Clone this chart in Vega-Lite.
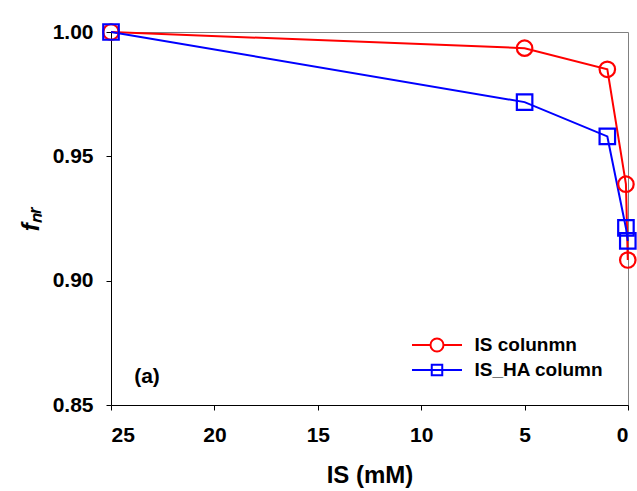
{
  "$schema": "https://vega.github.io/schema/vega-lite/v6.json",
  "width": 517,
  "height": 373,
  "autosize": {"type": "none"},
  "padding": {"left": 111, "top": 32, "right": 9, "bottom": 86},
  "background": "white",
  "config": {
    "view": {"stroke": "#808080", "strokeWidth": 1},
    "font": "Liberation Sans",
    "axis": {
      "grid": false,
      "domainColor": "black",
      "domainWidth": 1,
      "tickColor": "black",
      "tickSize": 5,
      "labelFont": "Liberation Sans",
      "labelFontWeight": "bold",
      "labelFontSize": 21,
      "labelColor": "black",
      "titleFont": "Liberation Sans",
      "titleFontWeight": "bold",
      "titleFontSize": 24,
      "titleColor": "black"
    }
  },
  "datasets": {
    "main": [
      {"series": "IS colunmn", "IS": 25, "fnr": 1.0},
      {"series": "IS colunmn", "IS": 5, "fnr": 0.9935},
      {"series": "IS colunmn", "IS": 1, "fnr": 0.985},
      {"series": "IS colunmn", "IS": 0.1, "fnr": 0.9388},
      {"series": "IS colunmn", "IS": 0.01, "fnr": 0.9083},
      {"series": "IS_HA column", "IS": 25, "fnr": 1.0},
      {"series": "IS_HA column", "IS": 5, "fnr": 0.9718},
      {"series": "IS_HA column", "IS": 1, "fnr": 0.958},
      {"series": "IS_HA column", "IS": 0.1, "fnr": 0.9212},
      {"series": "IS_HA column", "IS": 0.01, "fnr": 0.916}
    ],
    "panel": [{"label": "(a)"}]
  },
  "layer": [
    {
      "data": {"name": "main"},
      "mark": {"type": "line", "strokeWidth": 2},
      "encoding": {
        "x": {
          "field": "IS",
          "type": "quantitative",
          "scale": {"domain": [0, 25], "reverse": true, "nice": false, "zero": false},
          "axis": {"values": [0, 5, 10, 15, 20, 25], "title": "IS (mM)", "labelPadding": 14, "titlePadding": 18}
        },
        "y": {
          "field": "fnr",
          "type": "quantitative",
          "scale": {"domain": [0.85, 1.0], "nice": false, "zero": false},
          "axis": {"values": [0.85, 0.9, 0.95, 1.0], "format": ".2f", "title": "fₙᵣ", "titleFontStyle": "italic", "labelPadding": 13, "titlePadding": 9}
        },
        "color": {"field": "series", "type": "nominal", "scale": {"domain": ["IS colunmn", "IS_HA column"], "range": ["#ff0000", "#0000ff"]}, "legend": null}
      }
    },
    {
      "data": {"name": "main"},
      "mark": {"type": "point", "filled": false, "strokeWidth": 2.2, "size": 240, "fill": "white", "fillOpacity": 0},
      "encoding": {
        "x": {"field": "IS", "type": "quantitative"},
        "y": {"field": "fnr", "type": "quantitative"},
        "color": {"field": "series", "type": "nominal", "scale": {"domain": ["IS colunmn", "IS_HA column"], "range": ["#ff0000", "#0000ff"]}, "legend": null},
        "shape": {"field": "series", "type": "nominal", "scale": {"domain": ["IS colunmn", "IS_HA column"], "range": ["circle", "square"]}, "legend": null}
      }
    },
    {
      "data": {"name": "main"},
      "mark": {"type": "point", "filled": false, "opacity": 0, "strokeWidth": 2},
      "encoding": {
        "x": {"field": "IS", "type": "quantitative"},
        "y": {"field": "fnr", "type": "quantitative"},
        "color": {"field": "series", "type": "nominal", "scale": {"domain": ["IS colunmn", "IS_HA column"], "range": ["#ff0000", "#0000ff"]},
          "legend": {"title": null, "orient": "none", "legendX": 312.5, "legendY": 299.5, "symbolOpacity": 1, "symbolSize": 625, "symbolStrokeWidth": 2, "labelFont": "Liberation Sans", "labelFontWeight": "bold", "labelFontSize": 19, "labelColor": "black", "labelOffset": 24, "rowPadding": 1, "symbolFillColor": "transparent"}},
        "shape": {"field": "series", "type": "nominal", "scale": {"domain": ["IS colunmn", "IS_HA column"], "range": ["M-2,0H-0.52M0.52,0H2M0.52,0A0.52,0.52 0 1 1 -0.52,0A0.52,0.52 0 1 1 0.52,0Z", "M-2,0H2M-0.42,-0.42H0.42V0.42H-0.42Z"]},
          "legend": {"title": null, "orient": "none", "legendX": 312.5, "legendY": 299.5, "symbolOpacity": 1, "symbolSize": 625, "symbolStrokeWidth": 2, "labelFont": "Liberation Sans", "labelFontWeight": "bold", "labelFontSize": 19, "labelColor": "black", "labelOffset": 24, "rowPadding": 1, "symbolFillColor": "transparent"}}
      }
    },
    {
      "data": {"name": "panel"},
      "mark": {"type": "text", "font": "Liberation Sans", "fontWeight": "bold", "fontSize": 21, "fill": "black", "align": "center", "baseline": "middle"},
      "encoding": {
        "text": {"field": "label", "type": "nominal"},
        "x": {"datum": 23.26, "type": "quantitative"},
        "y": {"datum": 0.8613, "type": "quantitative"}
      }
    }
  ],
  "resolve": {"scale": {"shape": "independent", "color": "independent"}}
}
